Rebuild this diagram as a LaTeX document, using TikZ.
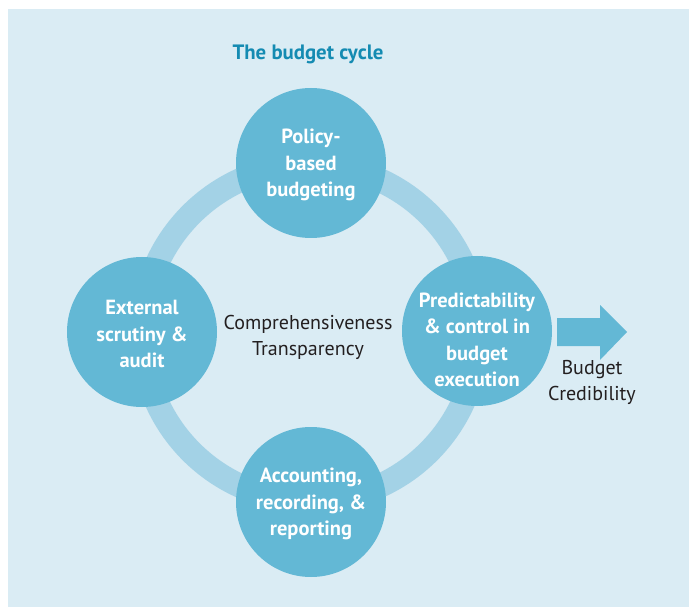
\documentclass[tikz,border=0pt]{standalone}
\usepackage{fontspec}
\setmainfont{PT Sans}
\usepackage{tikz}

\definecolor{bgblue}{HTML}{DAECF4}
\definecolor{ringblue}{HTML}{A3D2E6}
\definecolor{stageblue}{HTML}{63B8D5}
\definecolor{titleblue}{HTML}{148BB2}
\definecolor{darktext}{HTML}{231F20}

\begin{document}
\begin{tikzpicture}[x=1pt,y=-1pt,
    stage/.style={circle,fill=stageblue,minimum size=150pt,inner sep=0pt},
    stagetext/.style={text=white,align=center,font=\fontsize{20.5pt}{26.5pt}\selectfont\bfseries},
    plaintext/.style={text=darktext,align=center,font=\fontsize{20pt}{26pt}\selectfont}]
        % 半径
        \newcommand{\ringrad}{168pt}

        % 背景
        \useasboundingbox (0,0) rectangle (689,607);
        \fill[bgblue] (8,9) rectangle (689,607);

        % 标题
        \node[text=titleblue,font=\fontsize{20.8pt}{24pt}\selectfont\bfseries] (title) at (308,54) {The budget cycle};

        % 环
        \coordinate (O) at (310,333);
        \draw[ringblue,line width=24pt] (O) circle (\ringrad);

        % 四个圆
        \node[stage] (policy) at (311,163) {};
        \node[stage] (audit) at (142,332) {};
        \node[stage] (predict) at (477,331) {};
        \node[stage] (account) at (311,502) {};

        \node[stagetext] (policytxt) at ([yshift=-2pt]policy.center) {Policy-\\based\\budgeting};
        \node[stagetext] (audittxt) at ([yshift=-2pt]audit.center) {External\\scrutiny \&\\audit};
        \node[stagetext] (predicttxt) at ([yshift=-9pt]predict.center) {Predictability\\\& control in\\budget\\execution};
        \node[stagetext] (accounttxt) at ([yshift=-2pt]account.center) {Accounting,\\recording, \&\\reporting};

        % 中间文字
        \node[plaintext] (centre) at (308,337) {Comprehensiveness\\Transparency};

        % 箭头
        \coordinate (tail) at (557,332);
        \fill[stageblue] (tail) ++(0,-14) -- ++(43,0) -- ++(0,-13) -- ++(27,27)
            -- ++(-27,28) -- ++(0,-14) -- ++(-43,0) -- cycle;

        \node[plaintext] (cred) at (592,382) {Budget\\Credibility};
    \end{tikzpicture}
\end{document}
